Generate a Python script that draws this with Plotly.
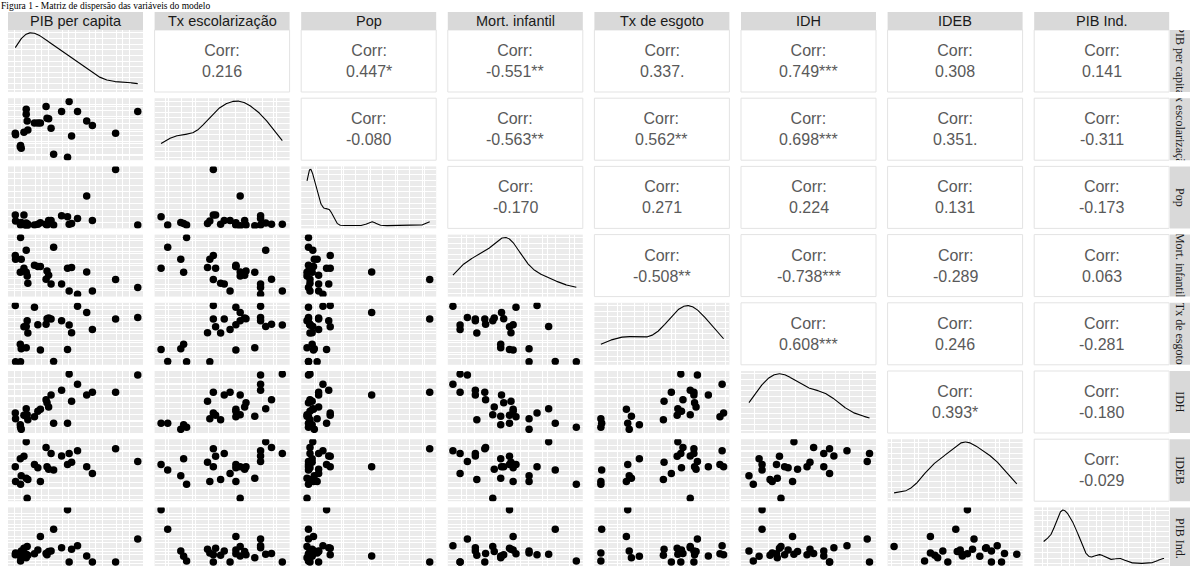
import numpy as np
import plotly.graph_objects as go

# Variables of the pairs matrix (values on a common 0-100 index scale)
variaveis = ["PIB per capita", "Tx escolarização", "Pop", "Mort. infantil",
             "Tx de esgoto", "IDH", "IDEB", "PIB Ind."]

pib_per_capita = [5.4, 5.6, 9.3, 9.8, 9.1, 11.8, 13.5, 13.5, 14.2, 14.7, 19.6, 22.1, 24.0, 28.2,
                  30.1, 28.9, 31.9, 33.8, 39.7, 44.1, 45.3, 47.1, 51.5, 58.3, 62.5, 79.7, 96.1]
tx_escolarizacao = [43.5, 40.9, 23.7, 19.4, 21.5, 45.2, 82.3, 74.2, 63.4, 48.9, 60.2, 60.2, 60.2, 86.6,
                    66.7, 67.7, 51.6, 9.7, 78.5, 4.8, 94.6, 39.2, 78.5, 63.4, 55.9, 43.5, 78.5]
pop = [21.5, 11.8, 5.4, 9.7, 8.1, 21.5, 8.6, 4.3, 4.3, 6.5, 5.4, 6.5, 9.1, 6.5,
       12.9, 5.4, 12.9, 5.4, 20.4, 18.8, 6.5, 8.1, 16.1, 52.2, 12.9, 95.2, 5.4]
mort_infantil = [66.1, 60.2, 95.2, 60.2, 39.2, 45.7, 74.7, 39.2, 33.3, 21.5, 50.5, 48.4, 48.4, 28.0,
                 34.4, 41.4, 20.4, 79.6, 20.4, 45.7, 9.1, 46.8, 3.8, 39.8, 9.1, 27.4, 14.5]
tx_esgoto = [95.7, 4.8, 4.8, 25.8, 33.3, 61.3, 61.8, 27.4, 71.0, 51.1, 93.0, 64.5, 23.7, 65.6,
             75.3, 74.2, 73.7, 5.4, 71.0, 24.7, 64.0, 51.6, 94.6, 84.4, 57.0, 73.7, 76.3]
idh = [32.3, 23.1, 9.1, 5.9, 13.4, 28.5, 39.2, 26.9, 29.6, 21.5, 26.3, 34.9, 38.2, 53.8,
       41.9, 48.9, 61.3, 15.6, 68.8, 15.6, 95.2, 51.1, 78.5, 61.3, 65.6, 65.6, 93.5]
ideb = [55.4, 31.7, 27.4, 40.9, 68.3, 72.6, 95.7, 37.1, 4.8, 35.0, 59.1, 53.8, 31.7, 86.6,
        51.6, 55.4, 76.9, 50.5, 73.1, 59.1, 76.9, 62.9, 81.2, 55.4, 44.6, 84.4, 64.0]
pib_ind = [19.4, 22.0, 8.6, 25.8, 16.7, 30.1, 19.9, 14.0, 33.3, 18.3, 21.0, 27.4, 50.5, 21.5,
           24.7, 19.4, 25.8, 62.9, 31.2, 96.2, 7.0, 28.5, 34.4, 17.2, 7.0, 7.0, 46.2]

# Correlation labels of the upper triangle, row by row
corr_labels = [
    ["0.216", "0.447*", "-0.551**", "0.337.", "0.749***", "0.308", "0.141"],
    ["-0.080", "-0.563**", "0.562**", "0.698***", "0.351.", "-0.311"],
    ["-0.170", "0.271", "0.224", "0.131", "-0.173"],
    ["-0.508**", "-0.738***", "-0.289", "0.063"],
    ["0.608***", "0.246", "-0.281"],
    ["0.393*", "-0.180"],
    ["-0.029"],
]

titulo = "Figura 1 - Matriz de dispersão das variáveis do modelo"

series = [pib_per_capita, tx_escolarizacao, pop, mort_infantil,
          tx_esgoto, idh, ideb, pib_ind]


def densidade(valores, npts=512):
    v = np.asarray(valores, dtype=float)
    n = len(v)
    q75, q25 = np.percentile(v, [75, 25])
    bw = 0.9 * min(v.std(ddof=1), (q75 - q25) / 1.34) * n ** (-0.2)
    grid = np.linspace(v.min(), v.max(), npts)
    dens = np.exp(-0.5 * ((grid[:, None] - v[None, :]) / bw) ** 2).sum(axis=1)
    dens /= n * bw * np.sqrt(2 * np.pi)
    return grid, dens


# ---- page geometry (pixels) ----
W, H = 1194, 566
left0, col_pitch, pw = 8, 146.6, 135
top0, row_pitch, ph = 30, 68.2, 62
strip_top = 12
rstrip_x0, rstrip_x1 = 1170, 1190

BG = "#EBEBEB"
STRIP = "#D9D9D9"

fig = go.Figure()
shapes = []
annotations = []
nv = len(variaveis)

for i in range(nv):
    for j in range(nv):
        k = i * nv + j + 1
        sfx = "" if k == 1 else str(k)
        xa, ya = "x" + sfx, "y" + sfx
        px0 = left0 + j * col_pitch
        px1 = px0 + pw
        ptop = top0 + i * row_pitch
        pbot = min(ptop + ph, H)
        xdom = [px0 / W, px1 / W]
        ydom = [1 - pbot / H, 1 - ptop / H]

        grid_on = i >= j
        xaxis = dict(domain=xdom, range=[0, 100], showticklabels=False, ticks="",
                     zeroline=False, showline=False, showgrid=grid_on,
                     gridcolor="white", gridwidth=1.1, dtick=20, tick0=5 + 3 * j,
                     minor=dict(dtick=10, showgrid=grid_on, gridcolor="white", gridwidth=0.5),
                     anchor=ya, fixedrange=True)
        yaxis = dict(domain=ydom, showticklabels=False, ticks="",
                     zeroline=False, showline=False, showgrid=grid_on,
                     gridcolor="white", gridwidth=1.1, anchor=xa, fixedrange=True)

        if i > j:
            yaxis.update(range=[0, 100], dtick=20, tick0=4 + 3 * i,
                         minor=dict(dtick=10, showgrid=True, gridcolor="white", gridwidth=0.5))
            fig.add_trace(go.Scatter(x=series[j], y=series[i], mode="markers",
                                     marker=dict(color="black", size=7.5, line=dict(width=0)),
                                     xaxis=xa, yaxis=ya, showlegend=False,
                                     hoverinfo="skip"))
        elif i == j:
            gx, gy = densidade(series[i])
            top = gy.max()
            yaxis.update(range=[-0.05 * top, 1.05 * top], dtick=top / 5,
                         tick0=0.1 * top,
                         minor=dict(dtick=top / 10, showgrid=True, gridcolor="white",
                                    gridwidth=0.5))
            fig.add_trace(go.Scatter(x=gx, y=gy, mode="lines",
                                     line=dict(color="black", width=1.1),
                                     xaxis=xa, yaxis=ya, showlegend=False,
                                     hoverinfo="skip"))
        else:
            yaxis.update(range=[0, 1], showgrid=False,
                         minor=dict(showgrid=False))
            shapes.append(dict(type="rect", xref="paper", yref="paper",
                               x0=xdom[0], x1=xdom[1], y0=ydom[0], y1=ydom[1],
                               fillcolor="white", line=dict(color="#E3E3E3", width=1),
                               layer="above"))
            annotations.append(dict(
                xref="paper", yref="paper",
                x=(xdom[0] + xdom[1]) / 2, y=(ydom[0] + ydom[1]) / 2,
                text="Corr:<br>" + corr_labels[i][j - i - 1],
                showarrow=False, xanchor="center", yanchor="middle",
                font=dict(family="Liberation Sans, Arial", size=16, color="#595959")))

        fig.update_layout(**{"xaxis" + sfx: xaxis, "yaxis" + sfx: yaxis})

# column strips along the top
for j, nome in enumerate(variaveis):
    px0 = left0 + j * col_pitch
    shapes.append(dict(type="rect", xref="paper", yref="paper",
                       x0=px0 / W, x1=(px0 + pw) / W,
                       y0=1 - top0 / H, y1=1 - strip_top / H,
                       fillcolor=STRIP, line=dict(width=0), layer="above"))
    annotations.append(dict(xref="paper", yref="paper",
                            x=(px0 + pw / 2) / W, y=1 - (strip_top + top0) / 2 / H,
                            text=nome, showarrow=False,
                            xanchor="center", yanchor="middle",
                            font=dict(family="Liberation Sans, Arial", size=14.5,
                                      color="#1A1A1A")))

# row strips along the right side
for i, nome in enumerate(variaveis):
    ptop = top0 + i * row_pitch
    pbot = min(ptop + ph, H)
    shapes.append(dict(type="rect", xref="paper", yref="paper",
                       x0=rstrip_x0 / W, x1=rstrip_x1 / W,
                       y0=1 - pbot / H, y1=1 - ptop / H,
                       fillcolor=STRIP, line=dict(width=0), layer="above"))
    annotations.append(dict(xref="paper", yref="paper",
                            x=(rstrip_x0 + rstrip_x1) / 2 / W,
                            y=1 - (ptop + ph / 2) / H,
                            text=nome, showarrow=False, textangle=90,
                            width=ph, height=18,
                            xanchor="center", yanchor="middle",
                            font=dict(family="Liberation Serif, Times New Roman", size=12,
                                      color="#1A1A1A")))

# figure caption in the band above the strips
annotations.append(dict(xref="paper", yref="paper", x=0, y=1,
                        text=titulo, showarrow=False, xanchor="left", yanchor="top",
                        borderpad=0,
                        font=dict(family="Liberation Serif, Times New Roman", size=9.5,
                                  color="black")))

fig.update_layout(width=W, height=H, margin=dict(l=0, r=0, t=0, b=0),
                  paper_bgcolor="white", plot_bgcolor=BG,
                  shapes=shapes, annotations=annotations, showlegend=False)

fig.write_html("out.html")
